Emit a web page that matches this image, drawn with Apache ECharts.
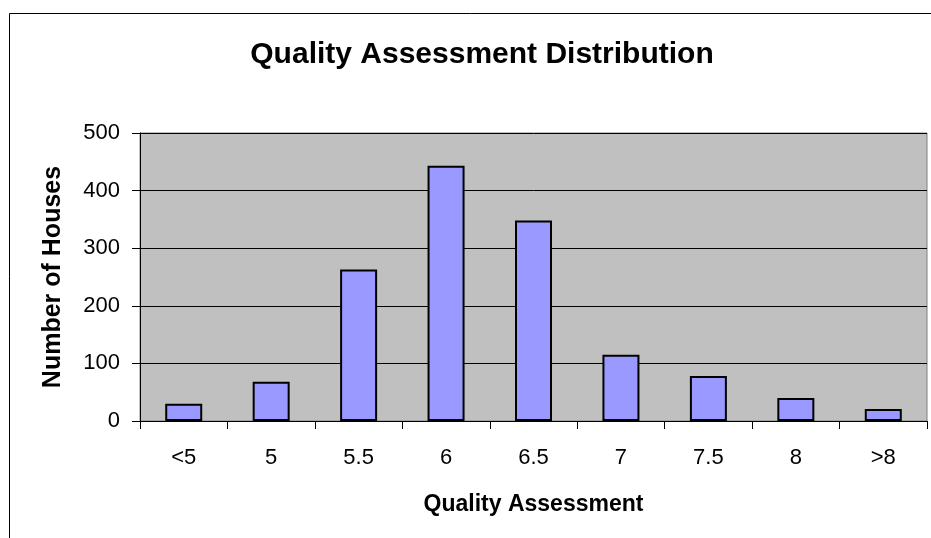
<!DOCTYPE html>
<html>
<head>
<meta charset="utf-8">
<script src="https://cdn.jsdelivr.net/npm/echarts@6/dist/echarts.min.js"></script>
<style>
	html, body { margin: 0; padding: 0; background: #fff; }
	#chart { width: 931px; height: 538px; }
</style>
</head>
<body>
<div id="chart"></div>
<script>
// 分数段
var categories = ['<5', '5', '5.5', '6', '6.5', '7', '7.5', '8', '>8'];
// 房屋数量
var houses = [30, 68, 263, 443, 348, 115, 78, 40, 21];
// 纵轴刻度
var yTicks = [0, 100, 200, 300, 400, 500];

var myChart = echarts.init(document.getElementById('chart'));
var font = 'Liberation Sans, Arial, sans-serif';

var option = {
	animation: false,
	title: {
		text: 'Quality Assessment Distribution',
		left: 477,
		top: 35,
		textAlign: 'center',
		textStyle: { fontFamily: font, fontSize: 30, fontWeight: 'bold', color: '#000' }
	},
	graphic: [
		{
			type: 'rect',
			shape: { x: 9.5, y: 13.5, width: 1000, height: 600 },
			style: { fill: 'none', stroke: '#000', lineWidth: 1 },
			silent: true
		}
	],
	grid: {
		left: 140, top: 133, right: 4, bottom: 117,
		show: true,
		backgroundColor: '#C0C0C0',
		borderColor: '#808080',
		borderWidth: 1,
		outerBoundsMode: 'none'
	},
	xAxis: {
		type: 'category',
		data: categories,
		name: 'Quality Assessment',
		nameLocation: 'middle',
		nameGap: 72,
		nameTextStyle: { fontFamily: font, fontSize: 23, fontWeight: 'bold', color: '#000' },
		axisLine: { lineStyle: { color: '#000', width: 1 } },
		axisTick: { show: true, length: 8, lineStyle: { color: '#000' } },
		axisLabel: { margin: 26, fontFamily: font, fontSize: 22, color: '#000' },
		splitLine: { show: false }
	},
	yAxis: {
		type: 'value',
		min: yTicks[0],
		max: yTicks[yTicks.length - 1],
		interval: 100,
		name: 'Number of Houses',
		nameLocation: 'middle',
		nameGap: 74,
		nameTextStyle: { fontFamily: font, fontSize: 25, fontWeight: 'bold', color: '#000' },
		axisLine: { show: true, lineStyle: { color: '#000', width: 1 } },
		axisTick: { show: true, length: 8, lineStyle: { color: '#000' } },
		axisLabel: { margin: 20, fontFamily: font, fontSize: 22, color: '#000' },
		splitLine: { show: true, lineStyle: { color: '#000', width: 1 } }
	},
	series: [
		{
			type: 'bar',
			data: houses,
			barWidth: 37,
			itemStyle: { color: '#9999FF', borderColor: '#000', borderWidth: 2 }
		}
	]
};
option && myChart.setOption(option);
</script>
</body>
</html>
